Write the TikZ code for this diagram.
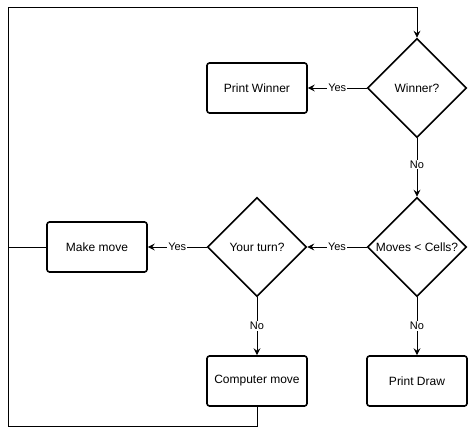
\documentclass[tikz,border=0pt]{standalone}
\usepackage{fontspec}
\setmainfont{Liberation Sans}
\usetikzlibrary{shapes.geometric,arrows.meta}
\begin{document}
\begin{tikzpicture}[x=1pt,y=-1pt,
  box/.style={draw,line width=1.6pt,rounded corners=2.5pt,minimum width=100pt,minimum height=50pt,inner sep=0pt,font=\fontsize{12}{14}\selectfont},
  dec/.style={draw,line width=1.6pt,diamond,minimum width=99pt,minimum height=99pt,inner sep=0pt,aspect=1,font=\fontsize{12}{14}\selectfont},
  conn/.style={line width=0.8pt,-{Stealth[length=7pt,width=7pt,inset=2.5pt]}},
  plain/.style={line width=0.8pt},
  lbl/.style={fill=white,inner sep=1pt,font=\fontsize{11}{13}\selectfont}]
\useasboundingbox (0,0) rectangle (469,436);
\node[dec] (win) at (417,88) {Winner?};
\node[box] (pw) at (257,88) {Print Winner};
\node[dec] (mc) at (417,247) {Moves < Cells?};
\node[dec] (yt) at (257,247) {Your turn?};
\node[box] (mm) at (97,247) {Make move};
\node[box] (cm) at (257,381) {Computer move};
\node[box] (pd) at (417,381) {Print Draw};
\coordinate (tl) at (8,7);
\coordinate (tr) at (417,7);
\coordinate (bl) at (8,426);
\coordinate (bc) at (257,426);
\coordinate (ml) at (8,247);
\draw[conn] (win.west) -- node[lbl,pos=0.5]{Yes} (pw.east);
\draw[conn] (win.south) -- node[lbl,pos=0.45]{No} (mc.north);
\draw[conn] (mc.west) -- node[lbl,pos=0.5]{Yes} (yt.east);
\draw[conn] (yt.west) -- node[lbl,pos=0.5]{Yes} (mm.east);
\draw[conn] (yt.south) -- node[lbl,pos=0.5]{No} (cm.north);
\draw[conn] (mc.south) -- node[lbl,pos=0.5]{No} (pd.north);
\draw[plain] (mm.west) -- (ml);
\draw[conn] (cm.south) -- (bc) -- (bl) -- (tl) -- (tr) -- (win.north);
\end{tikzpicture}
\end{document}
